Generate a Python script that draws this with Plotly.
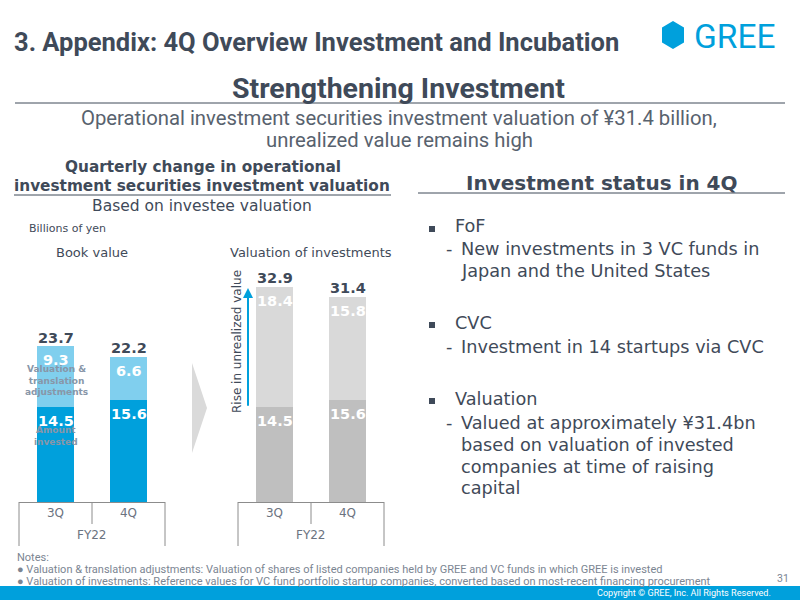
import plotly.graph_objects as go

# ---------------- data ----------------
quarters = ["3Q", "4Q"]
fiscal_year = "FY22"
book_invested = [14.5, 15.6]          # Amount invested
book_adjust = [9.3, 6.6]              # Valuation & translation adjustments
book_total = [23.7, 22.2]
val_invested = [14.5, 15.6]
val_unrealized = [18.4, 15.8]
val_total = [32.9, 31.4]

BLUE = "#00A0DC"
LBLUE = "#80CFEE"
DGRAY = "#BFBFBF"
LGRAY = "#D9D9D9"
TXT = "#3F4A59"
SUB = "#58626E"
AX = "#8C8C8C"
DV = "DejaVu Sans"
RB = "Roboto"

W, H = 800, 600
def X(px): return px / W
def Y(py): return 1 - py / H

Y0, Y1 = 502, 262
SCALE = 6.535
YMAX = (Y0 - Y1) / SCALE

fig = go.Figure()
fig.add_bar(x=quarters, y=book_invested, marker_color=BLUE, width=0.5, xaxis="x", yaxis="y",
            marker_line_width=0, hoverinfo="skip")
fig.add_bar(x=quarters, y=book_adjust, marker_color=LBLUE, width=0.5, xaxis="x", yaxis="y",
            marker_line_width=0, hoverinfo="skip")
fig.add_bar(x=quarters, y=val_invested, marker_color=DGRAY, width=0.5, xaxis="x2", yaxis="y",
            marker_line_width=0, hoverinfo="skip")
fig.add_bar(x=quarters, y=val_unrealized, marker_color=LGRAY, width=0.5, xaxis="x2", yaxis="y",
            marker_line_width=0, hoverinfo="skip")

ann = []
def A(text, x, y, size, color=TXT, family=DV, xanchor="center", yanchor="middle", **kw):
    d = dict(text=text, x=X(x), y=Y(y), xref="paper", yref="paper", showarrow=False,
             xanchor=xanchor, yanchor=yanchor, font=dict(size=size, color=color, family=family))
    d.update(kw)
    ann.append(d)

# value labels through the axes
for xa, bottoms, tops, totals in [("x", book_invested, book_adjust, book_total),
                                  ("x2", val_invested, val_unrealized, val_total)]:
    for q, b, t, tot in zip(quarters, bottoms, tops, totals):
        ann.append(dict(text=f"<b>{b}</b>", x=q, y=b, xref=xa, yref="y", yshift=-14,
                        xanchor="center", yanchor="middle",
                        showarrow=False, font=dict(size=14.5, color="white", family=DV)))
        ann.append(dict(text=f"<b>{t}</b>", x=q, y=b + t, xref=xa, yref="y", yshift=-14,
                        xanchor="center", yanchor="middle",
                        showarrow=False, font=dict(size=14.5, color="white", family=DV)))
        ann.append(dict(text=f"<b>{tot}</b>", x=q, y=tot, xref=xa, yref="y", yshift=9,
                        xanchor="center", yanchor="middle",
                        showarrow=False, font=dict(size=14.5, color=TXT, family=DV)))
    ann.append(dict(text=fiscal_year, x=0.5, y=Y(535), xref=xa + " domain", yref="paper",
                    xanchor="center", yanchor="middle",
                    showarrow=False, font=dict(size=12, color="#6B7380", family=DV)))

# arrow: rise in unrealized value
ann.append(dict(text="", x=X(248), xref="paper", y=32.75, yref="y", ax=0, axref="pixel",
                ay=val_invested[0], ayref="y", showarrow=True, arrowhead=2, arrowsize=1,
                arrowwidth=2, arrowcolor=BLUE))
A("Rise in unrealized value", 237, 342, 12, color=TXT, textangle=-90)

# in-bar legend labels
GL = "#8896A8"
A("<b>Valuation &amp;<br>translation<br>adjustments</b>", 56, 380, 9, color=GL)
A("<b>Amount<br>invested</b>", 56, 436, 9, color=GL)

# headers
A("<b>3. Appendix: 4Q Overview Investment and Incubation</b>", 12, 42, 25.5, family=RB, xanchor="left")
A("GREE", 692, 36, 33.5, color=BLUE, family=RB, xanchor="left")
A("<b>Strengthening Investment</b>", 398, 88, 28.5, family=RB)
A("Operational investment securities investment valuation of ¥31.4 billion,", 399, 118, 20.3, color=SUB, family=RB)
A("unrealized value remains high", 399, 140, 20.3, color=SUB, family=RB)

A("<b>Quarterly change in operational</b>", 203, 167, 15.3)
A("<b>investment securities investment valuation</b>", 202, 186, 15.3)
A("Based on investee valuation", 202, 206, 15.5)
A("Billions of yen", 27, 229, 11, xanchor="left")
A("Book value", 92, 253, 13)
A("Valuation of investments", 311, 253, 13)

A("<b>Investment status in 4Q</b>", 602, 183, 20)
heads = [("FoF", 226), ("CVC", 323), ("Valuation", 399)]
for t, y in heads:
    A(t, 453, y, 17.7, xanchor="left")
subs = [("New investments in 3 VC funds in", 249, True),
        ("Japan and the United States", 271, False),
        ("Investment in 14 startups via CVC", 347, True),
        ("Valued at approximately ¥31.4bn", 423, True),
        ("based on valuation of invested", 445, False),
        ("companies at time of raising", 467, False),
        ("capital", 488, False)]
for t, y, dash in subs:
    if dash:
        A("-", 444, y, 17.7, xanchor="left")
    A(t, 459, y, 17.7, xanchor="left")

NOTE = "#7B8592"
A("Notes:", 15, 557, 11, color=NOTE, family=RB, xanchor="left")
A("● Valuation &amp; translation adjustments: Valuation of shares of listed companies held by GREE and VC funds in which GREE is invested",
  15, 569, 11, color=NOTE, family=RB, xanchor="left")
A("● Valuation of investments: Reference values for VC fund portfolio startup companies, converted based on most-recent financing procurement",
  15, 581, 11, color=NOTE, family=RB, xanchor="left")
A("31", 791, 578, 10.5, color=NOTE, family=RB, xanchor="right")
A("Copyright © GREE, Inc. All Rights Reserved.", 773, 593, 9.1, color="white", family=RB, xanchor="right")

shapes = []
def L(x0, y0, x1, y1, color=AX, w=1):
    shapes.append(dict(type="line", xref="paper", yref="paper", x0=X(x0), y0=Y(y0), x1=X(x1), y1=Y(y1),
                       line=dict(color=color, width=w)))

# category boxes
for a, m, b in [(19, 92, 165), (238, 311, 384)]:
    L(a, Y0, a, 546); L(b, Y0, b, 546); L(m, Y0, m, 524)
# header rules
L(15, 103, 785, 103, color=TXT)
L(14, 195, 391, 195, color=TXT)
L(418, 193, 785, 193, color=TXT)
# bullets
for y in [229, 325, 401]:
    shapes.append(dict(type="rect", xref="paper", yref="paper", x0=X(429), x1=X(435),
                       y0=Y(y - 3), y1=Y(y + 3), fillcolor=TXT, line_width=0))
# chevron
shapes.append(dict(type="path", xref="paper", yref="paper",
                   path=f"M {X(192)} {Y(363)} L {X(207)} {Y(408)} L {X(192)} {Y(453)} Z",
                   fillcolor="#DADADA", line_width=0))
# logo hexagon
hx = [(673, 21), (684, 27.5), (684, 42.5), (673, 49), (662, 42.5), (662, 27.5)]
shapes.append(dict(type="path", xref="paper", yref="paper",
                   path="M " + " L ".join(f"{X(a)} {Y(b)}" for a, b in hx) + " Z",
                   fillcolor=BLUE, line_width=0))
# footer
shapes.append(dict(type="rect", xref="paper", yref="paper", x0=0, x1=1, y0=0, y1=Y(586),
                   fillcolor=BLUE, line_width=0, layer="below"))

axcommon = dict(type="category", categoryorder="array", categoryarray=quarters, showgrid=False,
                zeroline=False, showline=True, linecolor=AX, linewidth=1, ticks="",
                tickfont=dict(size=12, color="#6B7380", family=DV), fixedrange=True, anchor="y")
fig.update_layout(
    width=W, height=H, margin=dict(l=0, r=0, t=0, b=0),
    paper_bgcolor="white", plot_bgcolor="white", showlegend=False, barmode="stack",
    xaxis=dict(domain=[X(19), X(165)], range=[-0.5, 1.5], **axcommon),
    xaxis2=dict(domain=[X(238), X(384)], range=[-0.5, 1.5], **axcommon),
    yaxis=dict(domain=[Y(Y0), Y(Y1)], range=[0, YMAX], visible=False, fixedrange=True),
    annotations=ann, shapes=shapes,
)
fig.write_html("out.html")
